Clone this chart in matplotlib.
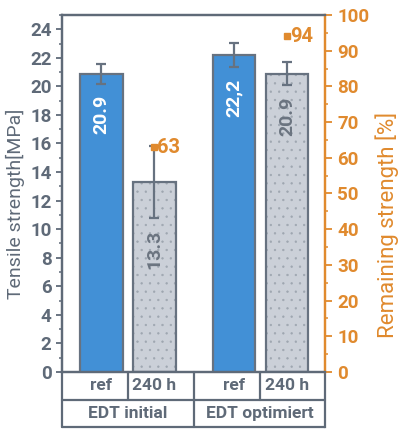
import matplotlib
matplotlib.use("Agg")
import matplotlib.pyplot as plt
from matplotlib.ticker import MultipleLocator

plt.rcParams['font.family'] = ['Roboto', 'DejaVu Sans']
plt.rcParams['font.weight'] = 'semibold'
plt.rcParams['hatch.linewidth'] = 0.45

# data
groups = ["EDT initial", "EDT optimiert"]
conditions = ["ref", "240 h"]
strength = [20.9, 13.3, 22.2, 20.9]
strength_err = [0.7, 2.5, 0.85, 0.8]
bar_labels = ["20.9", "13.3", "22,2", "20.9"]
remaining = [63, 94]          # only for the 240 h bars
remaining_idx = [1, 3]

GRAY = "#5f6a78"
EDGE = "#677280"
BLUE = "#4290d6"
LIGHT = "#cbd0d8"
ORANGE = "#e08a2e"

x = [0, 1, 2.5, 3.5]
w = 0.81
faces = [BLUE, LIGHT, BLUE, LIGHT]

fig = plt.figure(figsize=(4, 4.43), dpi=100)
ax = fig.add_axes([0.155, 0.1603, 0.6575, 0.8059])
ax2 = ax.twinx()

for i in range(len(x)):
    if faces[i] == LIGHT:
        ax.bar(x[i], strength[i], w, color=LIGHT, edgecolor="#9ea6b0",
               hatch="..", linewidth=0, zorder=2)
        ax.bar(x[i], strength[i], w, fill=False, edgecolor=EDGE, linewidth=1.6, zorder=3)
        tc = "#6b7480"
    else:
        ax.bar(x[i], strength[i], w, color=BLUE, edgecolor=EDGE, linewidth=1.6, zorder=3)
        tc = "white"
    ax.errorbar(x[i], strength[i], yerr=strength_err[i], color=EDGE, lw=1.6,
                capsize=3.5, capthick=1.6, zorder=4)
    ax.text(x[i], strength[i] - strength_err[i] - 0.8, bar_labels[i], rotation=90,
            ha="center", va="top", color=tc, fontsize=14, zorder=5)

ax.set_xlim(-0.745, 4.217)
ax.set_ylim(0, 25)
ax2.set_ylim(0, 100)
ax.set_xticks([])

ax.yaxis.set_major_locator(MultipleLocator(2))
ax.yaxis.set_minor_locator(MultipleLocator(1))
ax.tick_params(axis="y", which="major", length=4.5, width=1.3, color=GRAY,
               labelcolor=GRAY, labelsize=13.5, pad=3)
ax.tick_params(axis="y", which="minor", length=2.5, width=1.1, color=GRAY)

ax2.yaxis.set_major_locator(MultipleLocator(10))
ax2.yaxis.set_minor_locator(MultipleLocator(5))
ax2.tick_params(axis="y", which="major", length=5, width=1.3, color=ORANGE,
                labelcolor=ORANGE, labelsize=13.5, pad=4)
ax2.tick_params(axis="y", which="minor", length=2.5, width=1.1, color=ORANGE)

for a in (ax, ax2):
    for s in ("left", "top", "bottom"):
        a.spines[s].set_color(GRAY)
        a.spines[s].set_linewidth(1.6)
    a.spines["right"].set_color(ORANGE)
    a.spines["right"].set_linewidth(1.6)

ax.set_ylabel("Tensile strength[MPa]", color=GRAY, fontsize=14)
ax.yaxis.set_label_coords(-0.141, 0.47)
ax2.set_ylabel("Remaining strength [%]", color=ORANGE, fontsize=16)
ax2.yaxis.set_label_coords(1.19, 0.413)

# remaining strength markers
for j, i in enumerate(remaining_idx):
    ax2.plot(x[i], remaining[j], "s", color=ORANGE, ms=5, zorder=6)
    ax2.annotate(str(remaining[j]), (x[i], remaining[j]), xytext=(2, 0),
                 textcoords="offset points", ha="left", va="center",
                 color=ORANGE, fontsize=14.5)

# category table under the axis
tr = ax.get_xaxis_transform()
row1, row2 = -0.0784, -0.154
xl, xr = ax.get_xlim()
lkw = dict(color=GRAY, lw=1.6, transform=tr, clip_on=False, solid_capstyle="round")
ax.plot([xl, xr], [row1, row1], **lkw)
ax.plot([xl, xr], [row2, row2], **lkw)
ax.plot([xl, xl], [0, row2], **lkw)
ax.plot([xr, xr], [0, row2], color=GRAY, lw=1.6, transform=tr, clip_on=False)
for k in range(len(groups)):
    a, b = x[2 * k], x[2 * k + 1]
    ax.plot([(a + b) / 2, (a + b) / 2], [0, row1], **lkw)
    for i, c in zip((a, b), conditions):
        ax.text(i, row1 / 2, c, transform=tr, ha="center", va="center",
                color=GRAY, fontsize=12.5)
    lo = xl if k == 0 else (x[2 * k - 1] + a) / 2
    hi = xr if k == len(groups) - 1 else (b + x[2 * k + 2]) / 2
    ax.text((lo + hi) / 2, (row1 + row2) / 2, groups[k], transform=tr,
            ha="center", va="center", color=GRAY, fontsize=12.5)
ax.plot([(x[1] + x[2]) / 2] * 2, [0, row2], **lkw)

fig.savefig("out.png", dpi=100)
